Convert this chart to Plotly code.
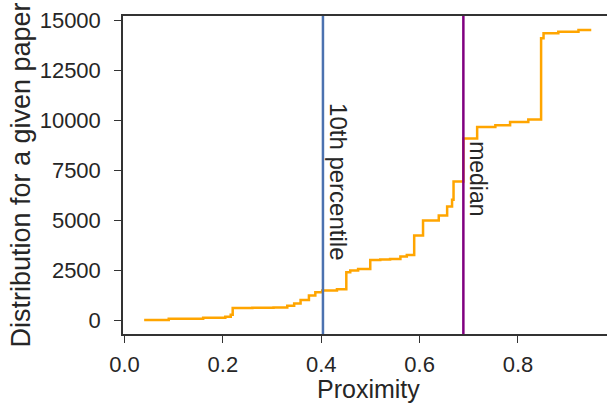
import plotly.graph_objects as go

# Step curve (proximity vs. cumulative distribution)
proximity = [0.040, 0.090, 0.160, 0.205, 0.216, 0.220, 0.260, 0.303, 0.331, 0.345,
             0.358, 0.375, 0.388, 0.402, 0.432, 0.451, 0.459, 0.475, 0.4997, 0.520,
             0.540, 0.561, 0.574, 0.589, 0.607, 0.639, 0.656, 0.666, 0.669, 0.689,
             0.717, 0.754, 0.784, 0.821, 0.847, 0.852, 0.882, 0.923, 0.949]
distribution = [0, 65, 110, 165, 265, 600, 610, 630, 715, 830,
                1000, 1220, 1385, 1470, 1535, 2385, 2470, 2555, 3000, 3030,
                3055, 3170, 3255, 4225, 4975, 5230, 5680, 6015, 6930, 9070,
                9650, 9740, 9900, 10025, 14085, 14335, 14415, 14500, 14500]

percentile_10 = 0.4035
median = 0.689
marker_labels = ["10th percentile", "median"]

x_ticks = [0.0, 0.2, 0.4, 0.6, 0.8]
y_ticks = [0, 2500, 5000, 7500, 10000, 12500, 15000]
x_title = "Proximity"
y_title = "Distribution for a given paper"

FONT = "Liberation Sans, Arial, Helvetica, sans-serif"
TXT = "#262626"

fig = go.Figure()
fig.add_trace(go.Scatter(
    x=proximity, y=distribution, mode="lines",
    line=dict(color="#FFA500", width=2.5, shape="hv"),
    showlegend=False, hoverinfo="skip"))

fig.add_vline(x=percentile_10, line=dict(color="#4C72B0", width=2.5), layer="above")
fig.add_vline(x=median, line=dict(color="#800080", width=2.5), layer="above")

fig.add_annotation(x=percentile_10, y=10950, xref="x", yref="y", text=marker_labels[0],
                   textangle=90, showarrow=False, xanchor="left", yanchor="top",
                   xshift=0, font=dict(family=FONT, size=24, color=TXT))
fig.add_annotation(x=median, y=9050, xref="x", yref="y", text=marker_labels[1],
                   textangle=90, showarrow=False, xanchor="left", yanchor="top",
                   xshift=0, font=dict(family=FONT, size=23, color=TXT))

# x-axis title placed as an annotation below the tick labels
fig.add_annotation(x=0.5, y=-0.174, xref="paper", yref="paper", text=x_title,
                   showarrow=False, xanchor="center", yanchor="middle", xshift=3,
                   font=dict(family=FONT, size=25, color=TXT))

axis_common = dict(showgrid=False, zeroline=False, showline=True, linecolor="#333333",
                   linewidth=1.5, ticks="outside", ticklen=7, tickwidth=1.3,
                   tickcolor="#333333", tickfont=dict(family=FONT, size=22, color=TXT))

fig.update_xaxes(range=[-0.003, 0.981], tickvals=x_ticks, tickformat=".1f",
                 mirror=True, ticklabelstandoff=3,
                 **axis_common)
fig.update_yaxes(range=[-700, 15200], tickvals=y_ticks, tickformat="d",
                 mirror=False, ticklabelstandoff=9,
                 title=dict(text=y_title, font=dict(family=FONT, size=27, color=TXT), standoff=1),
                 **axis_common)

fig.update_layout(width=607, height=404, margin=dict(l=123, r=0, t=16, b=70),
                  paper_bgcolor="white", plot_bgcolor="white",
                  font=dict(family=FONT, color=TXT))

fig.write_html("out.html")
